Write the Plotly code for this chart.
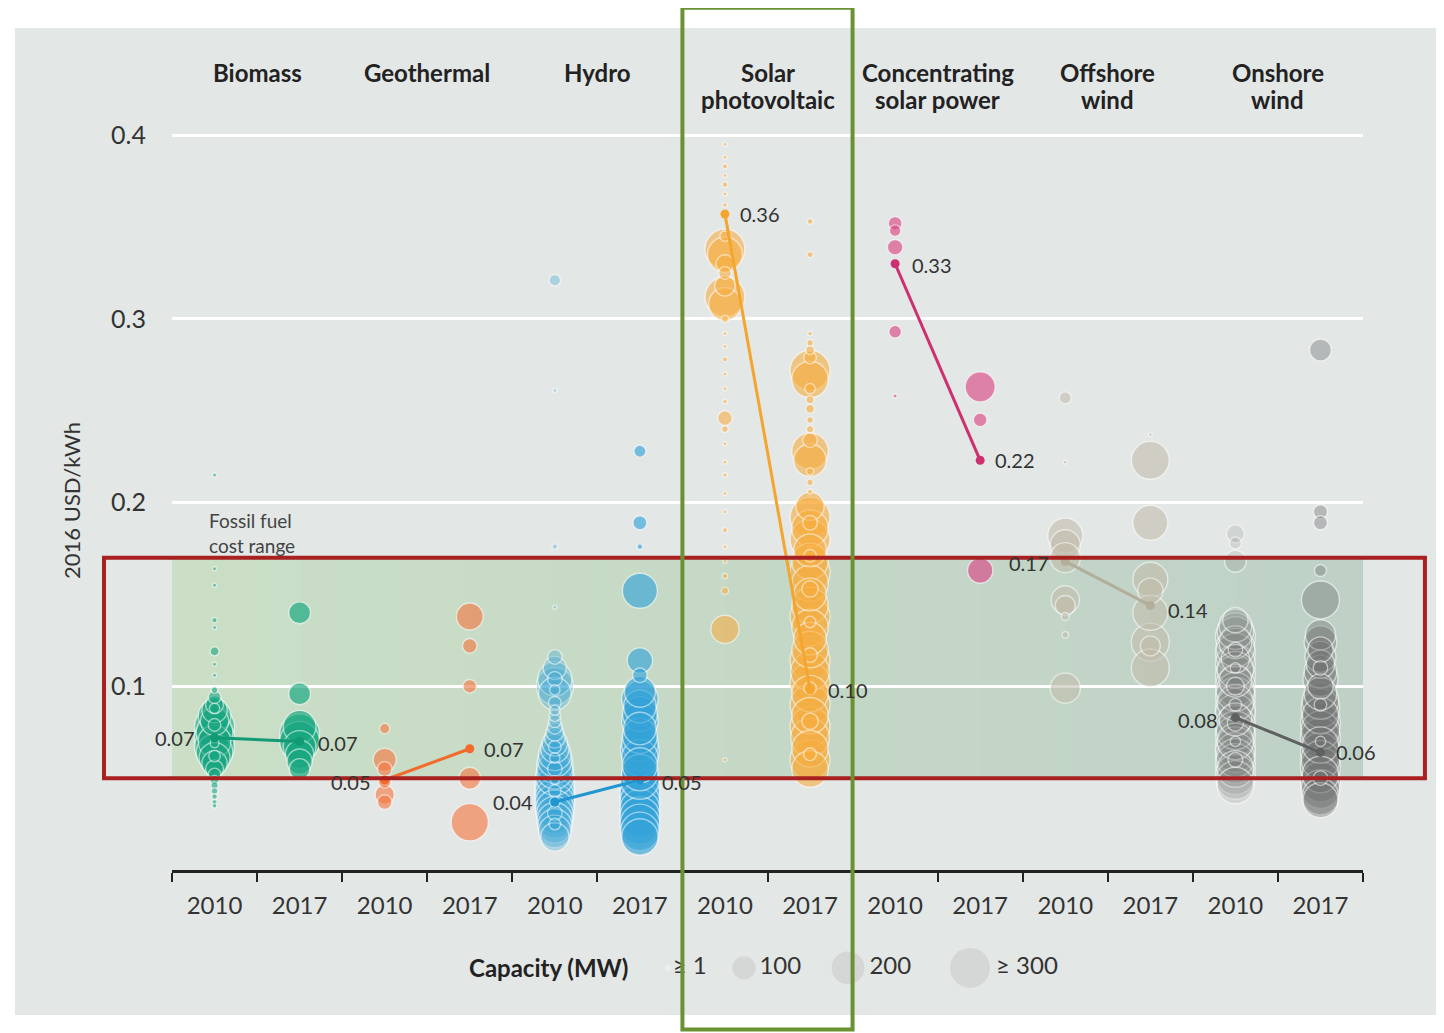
import plotly.graph_objects as go

# ---------------- DATA ----------------
technologies = ["Biomass", "Geothermal", "Hydro", "Solar<br>photovoltaic",
                "Concentrating<br>solar power", "Offshore<br>wind", "Onshore<br>wind"]
years = ["2010", "2017"]
y_ticks = [0.1, 0.2, 0.3, 0.4]
fossil_range = [0.05, 0.17]

# project LCOE (2016 USD/kWh) and capacity (MW)
biomass_2010_usd = [0.215, 0.164, 0.155, 0.136, 0.132, 0.119, 0.112, 0.106, 0.098, 0.094, 0.090, 0.087,
                    0.084, 0.081, 0.078, 0.075, 0.072, 0.070, 0.067, 0.064, 0.061, 0.058, 0.055, 0.052,
                    0.049, 0.046, 0.043, 0.040, 0.037, 0.035, 0.088, 0.079, 0.069, 0.062]
biomass_2010_mw = [1, 1, 1, 5, 3, 15, 2, 3, 8, 30, 60, 120, 200, 150, 300, 250, 300, 200, 300, 250, 180,
                   120, 60, 30, 15, 10, 8, 6, 5, 4, 20, 30, 15, 25]
biomass_2017_usd = [0.140, 0.096, 0.078, 0.074, 0.070, 0.067, 0.063, 0.059, 0.055]
biomass_2017_mw = [90, 90, 200, 300, 300, 200, 150, 120, 80]

geothermal_2010_usd = [0.077, 0.060, 0.055, 0.048, 0.041, 0.037]
geothermal_2010_mw = [20, 100, 40, 30, 70, 40]
geothermal_2017_usd = [0.138, 0.122, 0.100, 0.050, 0.026]
geothermal_2017_mw = [135, 40, 35, 90, 260]

hydro_2010_usd = [0.321, 0.261, 0.176, 0.143, 0.116, 0.110, 0.104, 0.100, 0.096, 0.091, 0.087, 0.084,
                  0.081, 0.078, 0.075, 0.072, 0.069, 0.066, 0.063, 0.060, 0.057, 0.054, 0.051, 0.048,
                  0.045, 0.042, 0.039, 0.036, 0.033, 0.030, 0.027, 0.024, 0.021, 0.018,
                  0.067, 0.061, 0.055, 0.049, 0.043, 0.037, 0.031, 0.025, 0.104, 0.098]
hydro_2010_mw = [25, 1, 6, 1, 40, 100, 220, 260, 200, 30, 20, 25, 30, 40, 60, 80, 120, 150, 200, 220,
                 250, 250, 280, 300, 300, 300, 300, 300, 280, 260, 240, 220, 200, 150,
                 30, 20, 40, 15, 30, 20, 40, 25, 40, 20]
hydro_2017_usd = [0.228, 0.189, 0.176, 0.152, 0.114, 0.106, 0.097, 0.093, 0.089, 0.085, 0.081, 0.077,
                  0.073, 0.069, 0.065, 0.061, 0.057, 0.053, 0.049, 0.045, 0.041, 0.037, 0.033, 0.029,
                  0.025, 0.021, 0.018]
hydro_2017_mw = [27, 37, 6, 230, 120, 40, 180, 250, 200, 230, 250, 200, 230, 250, 280, 250, 230, 250,
                 280, 300, 300, 300, 300, 300, 300, 280, 250]

solar_pv_2010_usd = [0.395, 0.388, 0.383, 0.378, 0.373, 0.368, 0.362, 0.345, 0.338, 0.335, 0.330,
                     0.325, 0.318, 0.312, 0.308, 0.300, 0.292, 0.285, 0.278, 0.270, 0.262, 0.255,
                     0.246, 0.240, 0.232, 0.222, 0.215, 0.205, 0.195, 0.185, 0.176, 0.168, 0.160,
                     0.152, 0.131, 0.060]
solar_pv_2010_mw = [1, 3, 5, 3, 6, 2, 4, 20, 300, 230, 60, 30, 80, 300, 200, 10, 3, 2, 5, 3, 2, 4,
                    40, 8, 3, 2, 4, 3, 2, 5, 3, 2, 6, 10, 150, 1]
solar_pv_2017_usd = [0.353, 0.335, 0.292, 0.287, 0.283, 0.279, 0.272, 0.267, 0.262, 0.256, 0.251,
                     0.245, 0.240, 0.234, 0.228, 0.223, 0.217, 0.211, 0.206, 0.198, 0.192, 0.186,
                     0.180, 0.174, 0.168, 0.162, 0.156, 0.150, 0.144, 0.138, 0.132, 0.126, 0.120,
                     0.114, 0.108, 0.102, 0.096, 0.090, 0.084, 0.078, 0.072, 0.066, 0.060, 0.055,
                     0.189, 0.171, 0.153, 0.135, 0.117, 0.099, 0.081, 0.063]
solar_pv_2017_mw = [6, 7, 4, 8, 15, 30, 300, 250, 20, 12, 15, 8, 10, 40, 250, 200, 10, 8, 5, 150,
                    300, 250, 300, 200, 250, 300, 250, 200, 250, 300, 250, 200, 250, 300, 280, 300,
                    250, 300, 250, 300, 280, 250, 300, 250,
                    40, 30, 50, 25, 40, 30, 50, 30]

csp_2010_usd = [0.352, 0.348, 0.339, 0.293, 0.258]
csp_2010_mw = [35, 25, 45, 30, 2]
csp_2017_usd = [0.263, 0.245, 0.163]
csp_2017_mw = [170, 35, 120]

offshore_2010_usd = [0.257, 0.222, 0.182, 0.177, 0.170, 0.147, 0.144, 0.138, 0.128, 0.099]
offshore_2010_mw = [27, 2, 230, 170, 170, 150, 75, 12, 8, 170]
offshore_2017_usd = [0.237, 0.223, 0.189, 0.158, 0.152, 0.140, 0.124, 0.122, 0.110]
offshore_2017_mw = [2, 270, 230, 230, 120, 230, 270, 75, 270]

onshore_2010_usd = [0.183, 0.178, 0.168, 0.136, 0.133, 0.130, 0.127, 0.124, 0.121, 0.118, 0.115,
                    0.112, 0.109, 0.106, 0.103, 0.100, 0.097, 0.094, 0.091, 0.088, 0.085, 0.082,
                    0.079, 0.076, 0.073, 0.070, 0.067, 0.064, 0.061, 0.058, 0.055, 0.052, 0.049,
                    0.046, 0.120, 0.110, 0.100, 0.090, 0.080, 0.070, 0.060]
onshore_2010_mw = [60, 27, 90, 120, 200, 250, 300, 200, 280, 300, 150, 300, 250, 300, 200, 300, 280,
                   300, 250, 300, 300, 200, 300, 280, 300, 250, 300, 300, 280, 300, 250, 300, 280,
                   250, 40, 20, 60, 30, 50, 20, 40]
onshore_2017_usd = [0.283, 0.195, 0.189, 0.163, 0.147, 0.128, 0.124, 0.120, 0.116, 0.112, 0.108,
                    0.104, 0.100, 0.096, 0.092, 0.088, 0.084, 0.080, 0.076, 0.072, 0.068, 0.064,
                    0.060, 0.056, 0.052, 0.048, 0.044, 0.040, 0.038, 0.110, 0.090, 0.070, 0.050]
onshore_2017_mw = [90, 37, 37, 27, 270, 170, 200, 120, 180, 150, 200, 230, 120, 200, 250, 280, 250,
                   300, 280, 300, 250, 300, 280, 300, 250, 300, 280, 250, 230, 40, 30, 20, 40]

# capacity-weighted averages
average_2010 = [0.072, 0.049, 0.037, 0.357, 0.330, 0.168, 0.083]
average_2017 = [0.070, 0.066, 0.049, 0.098, 0.223, 0.144, 0.064]

legend_mw = [1, 100, 200, 300]
legend_labels = ["≥ 1", "100", "200", "≥ 300"]

# ---------------- STYLE ----------------
FONT = "Lato"
bubble_rgb = [(24, 166, 128), (244, 122, 69), (51, 163, 216), (247, 173, 62),
              (220, 70, 134), (192, 188, 170), (110, 111, 111)]
# fill alpha per column (2010, 2017) – dense columns look washed out
fill_alpha = [(0.85, 0.95), (0.9, 0.9), (0.45, 0.9), (0.8, 0.85), (0.9, 0.9), (0.8, 0.8), (0.22, 0.55)]
line_colors = ["#129a74", "#f26b2c", "#2196d0", "#f5a52e", "#cf2f6e", "#b3ae9b", "#5f6060"]
BG = "#e3e7e6"
SIZEREF = 0.375  # 300 MW -> 40 px diameter
MAX_MW = 300
HEADER_LINE = 27  # px between header lines

series = [
    (biomass_2010_usd, biomass_2010_mw, biomass_2017_usd, biomass_2017_mw),
    (geothermal_2010_usd, geothermal_2010_mw, geothermal_2017_usd, geothermal_2017_mw),
    (hydro_2010_usd, hydro_2010_mw, hydro_2017_usd, hydro_2017_mw),
    (solar_pv_2010_usd, solar_pv_2010_mw, solar_pv_2017_usd, solar_pv_2017_mw),
    (csp_2010_usd, csp_2010_mw, csp_2017_usd, csp_2017_mw),
    (offshore_2010_usd, offshore_2010_mw, offshore_2017_usd, offshore_2017_mw),
    (onshore_2010_usd, onshore_2010_mw, onshore_2017_usd, onshore_2017_mw),
]

# label placement (anchor, xshift, yshift) for 2010 and 2017 averages
label_place_2010 = [("right", -18, 0), ("right", -12, -2), ("right", -20, 0), ("left", 13, 0),
                    ("left", 15, -1), ("right", -14, -2), ("right", -15, -2)]
label_place_2017 = [("left", 16, -2), ("left", 12, 0), ("left", 20, -2), ("left", 16, 0),
                    ("left", 13, 0), ("left", 16, -5), ("left", 14, 0)]

fig = go.Figure()

for i, (u10, m10, u17, m17) in enumerate(series):
    r, g, b = bubble_rgb[i]
    for j, (usd, mw) in enumerate([(u10, m10), (u17, m17)]):
        pts = sorted(zip(usd, mw), key=lambda p: -p[1])
        xs = [2 * i + j] * len(pts)
        fig.add_trace(go.Scatter(
            x=xs, y=[p[0] for p in pts], mode="markers", showlegend=False, hoverinfo="y",
            marker=dict(size=[min(p[1], MAX_MW) for p in pts], sizemode="area", sizeref=SIZEREF,
                        sizemin=2, color=f"rgba({r},{g},{b},{fill_alpha[i][j]})",
                        line=dict(color="rgba(255,255,255,0.75)", width=1.4)),
        ))

annotations = []
for i in range(len(technologies)):
    fig.add_trace(go.Scatter(
        x=[2 * i, 2 * i + 1], y=[average_2010[i], average_2017[i]], mode="lines+markers",
        showlegend=False, line=dict(color=line_colors[i], width=3),
        marker=dict(size=9, color=line_colors[i]),
    ))
    for j, (val, place) in enumerate([(average_2010[i], label_place_2010[i]),
                                      (average_2017[i], label_place_2017[i])]):
        annotations.append(dict(
            x=2 * i + j, y=val, xref="x", yref="y", text=f"{val:.2f}", showarrow=False,
            xanchor=place[0], yanchor="middle", xshift=place[1], yshift=place[2],
            font=dict(family=FONT, size=20, color="#333333")))
    # technology headers, one annotation per line for tighter leading
    for k, line in enumerate(technologies[i].split("<br>")):
        annotations.append(dict(
            x=2 * i + 0.5, y=1.0265, xref="x", yref="paper", text=f"<b>{line}</b>",
            showarrow=False, xanchor="center", yanchor="top", yshift=-HEADER_LINE * k,
            font=dict(family=FONT, size=24, color="#222222")))

# fossil fuel label
annotations.append(dict(x=-0.09, y=fossil_range[1], xref="x", yref="y",
                        text="Fossil fuel<br>cost range", showarrow=False, xanchor="left",
                        yanchor="bottom", yshift=-1, align="left",
                        font=dict(family=FONT, size=19, color="#444444")))
# y-axis title
annotations.append(dict(x=-0.084, y=0.54, xref="paper", yref="paper", text="2016 USD/kWh",
                        showarrow=False, textangle=-90, xanchor="center", yanchor="middle",
                        font=dict(family=FONT, size=22, color="#333333")))
# legend title
annotations.append(dict(x=376, y=0, xref="x2", yref="y2", text="<b>Capacity (MW)</b>",
                        showarrow=False, xanchor="center",
                        font=dict(family=FONT, size=24, color="#222222")))

# capacity legend bubbles
legend_pos = [496, 572, 676, 798]
fig.add_trace(go.Scatter(
    x=legend_pos, y=[0] * 4, xaxis="x2", yaxis="y2", mode="markers+text",
    text=legend_labels, textposition="middle right", showlegend=False, hoverinfo="skip",
    textfont=dict(family=FONT, size=24, color="#333333"),
    marker=dict(size=legend_mw, sizemode="area", sizeref=SIZEREF, sizemin=3,
                color=["#f2f2f2", "#cfd0cf", "#cfd0cf", "#cfd0cf"], line=dict(width=0)),
))

# shapes: gray panel, fossil-fuel band (gradient strips), highlight boxes
shapes = [dict(type="rect", xref="paper", yref="paper", x0=-0.1318, x1=1.068, y0=-0.024, y1=1.057,
               fillcolor=BG, line=dict(width=0), layer="below")]

def mix(c1, c2, t):
    a = [int(c1[k:k + 2], 16) for k in (1, 3, 5)]
    b = [int(c2[k:k + 2], 16) for k in (1, 3, 5)]
    return "#" + "".join(f"{round(a[k] + (b[k] - a[k]) * t):02x}" for k in range(3))

n_strips = 28
for s in range(n_strips):
    x0 = -0.5 + 14 * s / n_strips
    x1 = -0.5 + 14 * (s + 1) / n_strips
    shapes.append(dict(type="rect", xref="x", yref="y", x0=x0, x1=x1 + 0.01,
                       y0=fossil_range[0], y1=fossil_range[1],
                       fillcolor=mix("#cadfc6", "#bfd1c7", s / (n_strips - 1)),
                       line=dict(width=0), layer="below"))

shapes.append(dict(type="rect", xref="paper", yref="y", x0=-0.0571, x1=1.052,
                   y0=fossil_range[0], y1=fossil_range[1],
                   line=dict(color="#a8201f", width=4), fillcolor="rgba(0,0,0,0)", layer="above"))
shapes.append(dict(type="rect", xref="x", yref="paper", x0=5.5, x1=7.5, y0=-0.04, y1=1.079,
                   line=dict(color="#6a9232", width=4), fillcolor="rgba(0,0,0,0)", layer="above"))

# the page body has an 8 px margin: the figure is sized/offset to compensate
fig.update_layout(
    width=1436, height=1025,
    margin=dict(l=164, r=81, t=72, b=40),
    paper_bgcolor="white", plot_bgcolor="rgba(0,0,0,0)",
    font=dict(family=FONT, color="#333333"),
    shapes=shapes, annotations=annotations,
    xaxis=dict(range=[-0.5, 13.5], tickvals=list(range(14)), ticktext=years * 7,
               ticks="", showgrid=False, zeroline=False, showline=True, linecolor="#222222",
               linewidth=2.5, ticklabelstandoff=12,
               tickfont=dict(family=FONT, size=24, color="#333333"),
               minor=dict(tickvals=[k - 0.5 for k in range(15)], ticks="outside", ticklen=9,
                          tickwidth=2, tickcolor="#222222", showgrid=False),
               anchor="y", fixedrange=True),
    yaxis=dict(range=[0, 0.43], domain=[0.1347, 1], tickvals=y_ticks,
               ticktext=[f"{v:.1f}" for v in y_ticks], showgrid=True, gridcolor="white",
               gridwidth=2.5, zeroline=False, showline=False, ticks="", ticklabelstandoff=25,
               tickfont=dict(family=FONT, size=25, color="#333333"), fixedrange=True),
    xaxis2=dict(range=[0, 1191], domain=[0, 1], anchor="y2", visible=False, fixedrange=True),
    yaxis2=dict(range=[-1, 1], domain=[0.005, 0.05], anchor="x2", visible=False, fixedrange=True),
)

fig.write_html("out.html")
